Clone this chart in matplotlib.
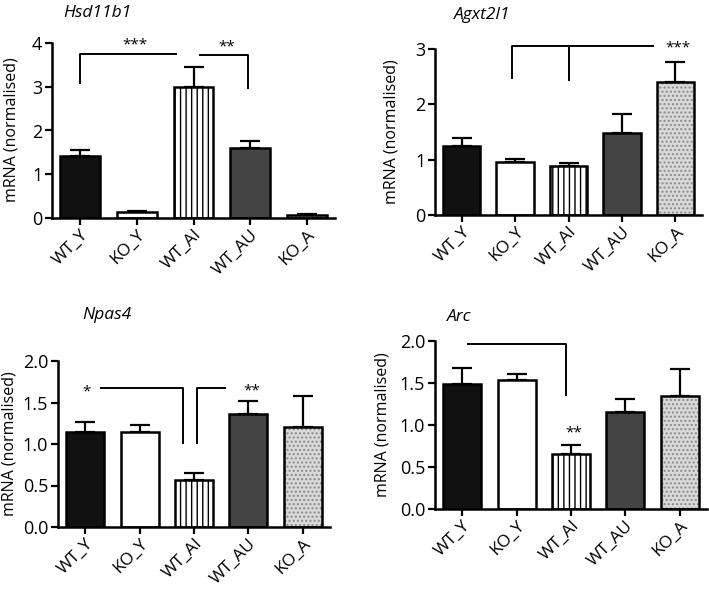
import matplotlib.pyplot as plt
import numpy as np

plt.rcParams['font.family'] = ['Open Sans', 'DejaVu Sans']

groups = ['WT_Y', 'KO_Y', 'WT_AI', 'WT_AU', 'KO_A']

hsd_mean = [1.42, 0.14, 3.00, 1.59, 0.07]
hsd_err = [0.14, 0.03, 0.45, 0.17, 0.01]
agx_mean = [1.24, 0.96, 0.88, 1.49, 2.41]
agx_err = [0.15, 0.06, 0.06, 0.33, 0.35]
npas_mean = [1.15, 1.14, 0.57, 1.36, 1.21]
npas_err = [0.12, 0.09, 0.08, 0.16, 0.37]
arc_mean = [1.49, 1.53, 0.66, 1.15, 1.34]
arc_err = [0.19, 0.08, 0.10, 0.16, 0.33]

# significance brackets: list of (x points, y points) in data units, and star labels (x, y, text)
hsd_lines = [([0, 0, 1.71], [3.07, 3.76, 3.76]), ([2.1, 2.97, 2.97], [3.72, 3.72, 2.96])]
hsd_stars = [(0.97, 3.95, '***'), (2.59, 3.92, '**')]
agx_lines = [([0.94, 0.94, 3.6], [2.46, 3.05, 3.05]), ([2.0, 2.0], [3.05, 2.43])]
agx_stars = [(4.04, 3.02, '***')]
npas_lines = [([0.28, 1.8, 1.8], [1.68, 1.68, 1.0]), ([2.05, 2.05, 2.58], [1.0, 1.68, 1.68])]
npas_stars = [(0.03, 1.63, '*'), (3.06, 1.64, '**')]
arc_lines = [([0.09, 1.9, 1.9], [1.97, 1.97, 1.34])]
arc_stars = [(2.05, 0.91, '**')]

faces = ['#111111', 'white', 'white', '#444444', '#d9d9d9']
hatches = [None, None, '|||', None, '....']
hatch_cols = ['#111111', 'white', 'black', '#444444', '#8a8a8a']

W, H = 709, 589
fig = plt.figure(figsize=(W / 100, H / 100), dpi=100)


def px_axes(left, right, bottom, top):
    return fig.add_axes([left / W, 1 - bottom / H, (right - left) / W, (bottom - top) / H])


def panel(ax, mean, err, ymax, step, fmt, lines, stars):
    x = np.arange(len(groups))
    ax.errorbar(x, mean, yerr=[np.zeros(len(err)), err], fmt='none', ecolor='black',
                elinewidth=1.6, capsize=7, capthick=1.6, zorder=1)
    for i in range(len(groups)):
        ax.bar(x[i], mean[i], width=0.7, color=faces[i], edgecolor=hatch_cols[i],
               hatch=hatches[i], linewidth=0, zorder=2)
        ax.bar(x[i], mean[i], width=0.7, fill=False, edgecolor='black', linewidth=1.8, zorder=3)
    for xs, ys in lines:
        ax.plot(xs, ys, color='black', lw=1.4, clip_on=False, solid_capstyle='butt')
    for sx, sy, t in stars:
        ax.text(sx, sy, t, ha='center', va='center', fontsize=11, clip_on=False)
    ax.set_xlim(-0.5, 4.5)
    ax.set_ylim(0, ymax)
    ax.set_yticks(np.arange(0, ymax + 0.001, step))
    ax.set_yticklabels([fmt.format(v) for v in np.arange(0, ymax + 0.001, step)], fontsize=13)
    ax.set_xticks(x)
    ax.set_xticklabels(groups, rotation=45, ha='right', rotation_mode='anchor', fontsize=12.5)
    for s in ['top', 'right']:
        ax.spines[s].set_visible(False)
    for s in ['left', 'bottom']:
        ax.spines[s].set_linewidth(1.8)
    ax.tick_params(width=1.6, length=5, pad=2)
    ax.tick_params(axis='x', pad=1)


ax1 = px_axes(52, 335, 218, 43)
panel(ax1, hsd_mean, hsd_err, 4, 1, '{:.0f}', hsd_lines, hsd_stars)
ax2 = px_axes(435, 702, 215, 49)
panel(ax2, agx_mean, agx_err, 3, 1, '{:.0f}', agx_lines, agx_stars)
ax3 = px_axes(58, 330, 527, 361)
panel(ax3, npas_mean, npas_err, 2, 0.5, '{:.1f}', npas_lines, npas_stars)
ax4 = px_axes(435, 707, 509, 341)
panel(ax4, arc_mean, arc_err, 2, 0.5, '{:.1f}', arc_lines, arc_stars)

titles = [(97, 13, 'Hsd11b1'), (482, 15, 'Agxt2l1'), (107, 315, 'Npas4'), (459, 317, 'Arc')]
for tx, ty, t in titles:
    fig.text(tx / W, 1 - ty / H, t, style='italic', fontsize=12.5, ha='center', va='center')

ylabels = [(12, 130), (392, 132), (10, 444), (382, 425)]
for lx, ly in ylabels:
    fig.text(lx / W, 1 - ly / H, 'mRNA (normalised)', rotation=90, fontsize=11.5,
             ha='center', va='center')

fig.savefig('out.png', dpi=100)
